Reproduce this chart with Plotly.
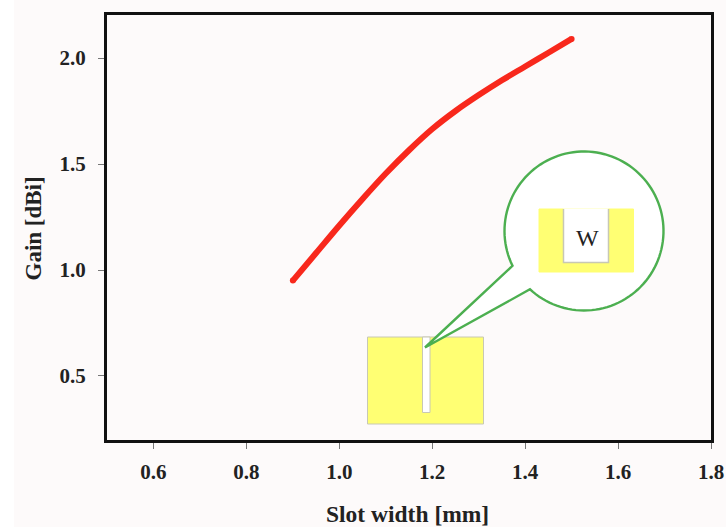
import numpy as np
import plotly.graph_objects as go

slot_width = [0.9, 0.95, 1.0, 1.05, 1.1, 1.15, 1.2, 1.25, 1.3, 1.35, 1.4, 1.45, 1.5]
gain = [0.95, 1.08, 1.21, 1.335, 1.455, 1.565, 1.665, 1.75, 1.825, 1.895, 1.96, 2.025, 2.09]
cap_sizes = [6] + [0] * 11 + [6]
x_ticks = [0.6, 0.8, 1.0, 1.2, 1.4, 1.6, 1.8]
y_ticks = [0.5, 1.0, 1.5, 2.0]

W, H = 726, 527
ML, MR, MT, MB = 107, 15, 15, 87
FONT = "Liberation Serif"
BG = "#fdfafa"
YEL = "#ffff73"
GREY = "#c8c8b4"
GREEN = "#4caf50"
INK = "#222222"


def px(x):
    return (x - ML) / (W - ML - MR)


def py(y):
    return 1 - (y - MT) / (H - MT - MB)


def rect(x0, y0, x1, y1, fill, line=None, lw=1):
    return dict(type="rect", xref="paper", yref="paper", x0=px(x0), x1=px(x1), y0=py(y1), y1=py(y0),
                fillcolor=fill, line=dict(color=line or fill, width=lw), layer="above")


def path(points, fill=None, line=None, lw=1, close=True):
    d = "M " + " L ".join(f"{px(a):.5f},{py(b):.5f}" for a, b in points) + (" Z" if close else "")
    return dict(type="path", xref="paper", yref="paper", path=d, fillcolor=fill or "rgba(0,0,0,0)",
                line=dict(color=line or "rgba(0,0,0,0)", width=lw), layer="above")


cx, cy, r = 584, 231, 79.5
a0 = np.arctan2(265.7 - cy, 512.7 - cx)
a1 = np.arctan2(289.3 - cy, 530 - cx)
angles = np.linspace(a0, a0 + 2 * np.pi - ((a0 - a1) % (2 * np.pi)), 120)
bubble = [(cx + r * np.cos(t), cy + r * np.sin(t)) for t in angles]
bubble.append((425, 347.5))

shapes = [
    dict(type="rect", xref="paper", yref="paper", x0=px(0), x1=px(14), y0=py(H), y1=py(0),
         fillcolor="white", line=dict(width=0), layer="below"),
    rect(367.5, 337, 483.5, 424, YEL, GREY),
    rect(422.5, 337, 430, 412.5, "#ffffff", GREY),
    path(bubble, "white", GREEN, 2.4),
    rect(539, 209, 633.5, 272, YEL),
    rect(563.5, 209, 608.5, 262.5, "white"),
    path([(563.5, 209), (563.5, 262.5), (608.5, 262.5), (608.5, 209)], None, GREY, 1.5, close=False),
]

fig = go.Figure(go.Scatter(x=slot_width, y=gain, mode="lines+markers",
                           line=dict(color="#f8281c", width=6, shape="spline", smoothing=1.0),
                           marker=dict(color="#f8281c", size=cap_sizes, opacity=1, line=dict(width=0)),
                           showlegend=False, hoverinfo="skip"))

tick_font = dict(family=FONT, size=21, color=INK, weight="bold")
axis_common = dict(showgrid=False, zeroline=False, showline=True, mirror=True, linecolor="#111111",
                   linewidth=3, ticks="outside", ticklen=6, tickwidth=1, tickcolor="#777777",
                   tickfont=tick_font, automargin=False)
fig.update_xaxes(range=[0.5, 1.8], tickvals=x_ticks, ticktext=[f"{v:.1f}" for v in x_ticks],
                 ticklabelstandoff=5, **axis_common)
fig.update_yaxes(range=[0.198, 2.203], tickvals=y_ticks, ticktext=[f"{v:.1f}" for v in y_ticks],
                 ticklabelstandoff=8, **axis_common)

fig.update_layout(
    width=W, height=H, autosize=False, margin=dict(l=ML, r=MR, t=MT, b=MB),
    paper_bgcolor=BG, plot_bgcolor=BG, shapes=shapes,
    annotations=[
        dict(text="W", xref="paper", yref="paper", x=px(587), y=py(238), showarrow=False,
             xanchor="center", yanchor="middle", font=dict(family=FONT, size=24, color=INK)),
        dict(text="<b>Gain [dBi]</b>", xref="paper", yref="paper", x=px(33), y=py(228.5), showarrow=False,
             textangle=-90, xanchor="center", yanchor="middle", font=dict(family=FONT, size=23, color=INK)),
        dict(text="<b>Slot width [mm]</b>", xref="paper", yref="paper", x=px(407.5), y=py(514), showarrow=False,
             xanchor="center", yanchor="middle", font=dict(family=FONT, size=23.5, color=INK)),
    ],
)
fig.write_html("out.html", post_script="document.body.style.margin='0';", config=dict(displayModeBar=False))
